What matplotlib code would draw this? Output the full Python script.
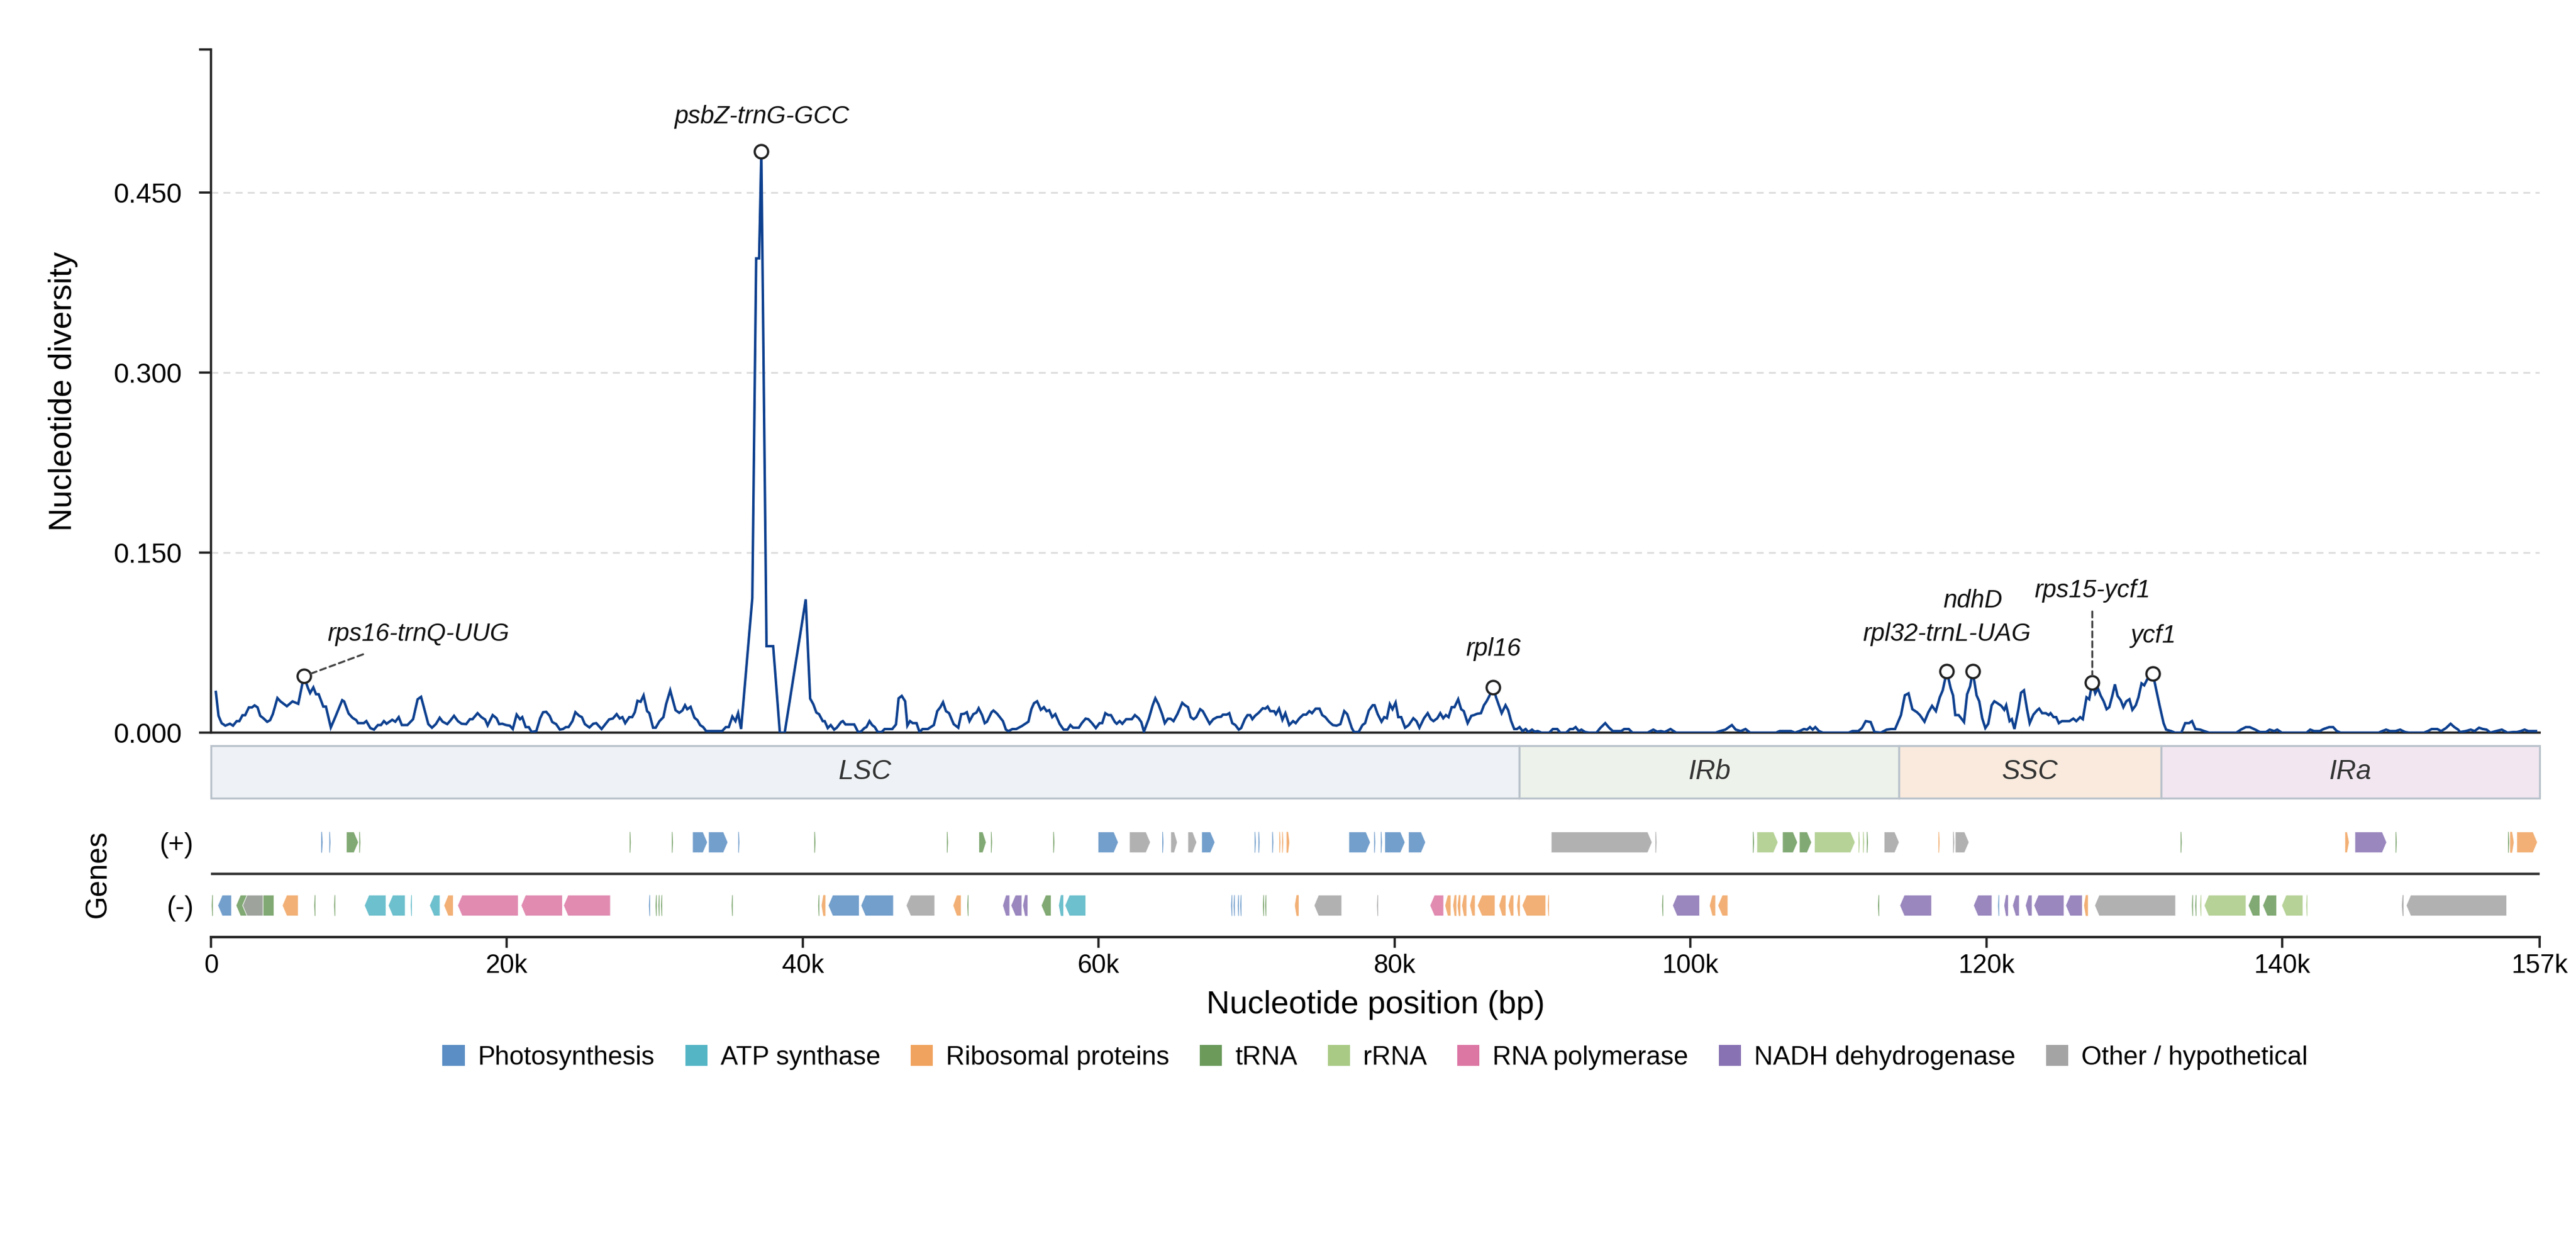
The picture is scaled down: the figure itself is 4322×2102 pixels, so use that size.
import numpy as np
import matplotlib
matplotlib.use('Agg')
import matplotlib.pyplot as plt
from matplotlib.patches import Polygon, Rectangle, Patch

plt.rcParams['font.family'] = ['Liberation Sans', 'DejaVu Sans']

GENOME_KB = 157.4

# sliding-window nucleotide diversity (window centre in kb, Pi)
POS_KB = [
    0.33, 0.51, 0.72, 0.97, 1.28, 1.49, 1.74, 1.92, 2.13, 2.31, 2.56, 2.77, 2.95, 3.15, 3.33, 3.54,
    3.80, 4.00, 4.18, 4.49, 4.70, 5.13, 5.51, 5.90, 6.28, 6.56, 6.70, 6.92, 7.10, 7.28, 7.59, 7.77,
    8.10, 8.40, 8.87, 9.00, 9.30, 9.56, 9.82, 9.94, 10.33, 10.50, 10.77, 11.02, 11.28, 11.49, 11.69,
    11.87, 12.25, 12.46, 12.69, 12.90, 13.28, 13.66, 13.97, 14.20, 14.69, 14.94, 15.20, 15.46, 15.66,
    15.97, 16.15, 16.43, 16.69, 16.94, 17.25, 17.50, 17.68, 18.02, 18.28, 18.53, 18.70, 19.04, 19.30,
    19.48, 19.69, 19.94, 20.20, 20.40, 20.66, 20.89, 21.04, 21.27, 21.48, 21.68, 21.99, 22.25, 22.45,
    22.66, 22.89, 23.07, 23.33, 23.58, 23.79, 23.99, 24.17, 24.43, 24.63, 24.89, 25.07, 25.27, 25.58,
    25.84, 26.04, 26.40, 26.66, 26.91, 27.17, 27.42, 27.63, 27.81, 28.00, 28.27, 28.47, 28.65, 28.83,
    29.04, 29.24, 29.48, 29.63, 29.88, 30.06, 30.32, 30.58, 30.76, 31.04, 31.40, 31.65, 31.86, 32.04,
    32.19, 32.42, 32.68, 32.88, 33.06, 33.27, 33.47, 34.55, 34.80, 35.00, 35.24, 35.45, 35.63, 35.83,
    36.59, 36.85, 37.05, 37.20, 37.55, 38.00, 38.45, 38.78, 40.20, 40.50, 40.71, 40.92, 41.10, 41.35,
    41.48, 41.69, 41.89, 42.12, 42.30, 42.59, 42.71, 42.89, 43.48, 43.74, 43.92, 44.17, 44.30, 44.51,
    44.69, 44.87, 45.07, 45.33, 45.53, 46.05, 46.30, 46.48, 46.69, 46.92, 47.07, 47.25, 47.43, 47.69,
    47.89, 48.10, 48.45, 48.86, 49.09, 49.30, 49.48, 49.68, 49.89, 50.20, 50.51, 50.71, 50.91, 51.09,
    51.27, 51.53, 51.74, 51.89, 52.12, 52.30, 52.45, 52.76, 52.89, 53.14, 53.53, 53.73, 53.91, 54.17,
    54.43, 54.81, 55.25, 55.45, 55.63, 55.84, 56.09, 56.30, 56.48, 56.66, 56.86, 57.07, 57.37, 57.63,
    57.89, 58.09, 58.27, 58.66, 58.86, 59.12, 59.30, 59.55, 59.81, 60.06, 60.24, 60.45, 60.65, 60.83,
    61.10, 61.22, 61.42, 61.60, 61.86, 62.24, 62.45, 62.70, 62.88, 63.06, 63.40, 63.65, 63.83, 64.04,
    64.29, 64.47, 64.68, 64.86, 65.06, 65.32, 65.65, 65.83, 66.04, 66.22, 66.42, 66.60, 66.86, 67.04,
    67.50, 67.75, 68.01, 68.27, 68.40, 68.66, 68.83, 69.03, 69.24, 69.47, 69.63, 69.88, 70.06, 70.24,
    70.39, 70.57, 70.83, 71.09, 71.27, 71.42, 71.60, 71.86, 71.98, 72.19, 72.42, 72.62, 72.88, 73.14,
    73.32, 73.57, 73.83, 74.03, 74.24, 74.42, 74.67, 74.93, 75.11, 75.32, 75.57, 75.83, 76.08, 76.34,
    76.60, 76.80, 77.11, 77.26, 77.57, 77.83, 78.01, 78.26, 78.52, 78.65, 78.86, 79.12, 79.30, 79.48,
    79.68, 79.86, 80.07, 80.25, 80.45, 80.71, 80.96, 81.27, 81.48, 81.68, 81.99, 82.24, 82.45, 82.63,
    82.89, 83.09, 83.29, 83.47, 83.65, 83.86, 84.05, 84.30, 84.50, 84.68, 84.94, 85.19, 85.37, 85.58,
    85.84, 86.04, 86.22, 86.40, 86.67, 86.86, 87.24, 87.50, 87.68, 87.88, 88.09, 88.27, 88.45, 88.65,
    88.86, 89.04, 89.29, 89.47, 89.68, 89.93, 90.45, 90.70, 91.00, 91.20, 91.60, 91.86, 92.06, 92.24,
    92.45, 92.63, 92.88, 93.14, 93.65, 93.90, 94.24, 94.50, 94.75, 95.32, 95.52, 95.83, 96.08, 97.11,
    97.30, 97.49, 97.75, 98.00, 98.26, 98.65, 99.03, 101.70, 102.00, 102.36, 102.80, 103.06, 103.40,
    103.72, 104.03, 105.78, 106.03, 106.80, 107.06, 107.37, 107.67, 107.88, 108.08, 108.26, 108.44,
    108.69, 108.95, 110.69, 110.95, 111.34, 111.59, 111.85, 112.18, 112.44, 112.87, 113.26, 113.57,
    113.83, 114.03, 114.23, 114.49, 114.74, 115.00, 115.31, 115.51, 115.82, 116.08, 116.33, 116.59,
    116.85, 117.05, 117.33, 117.59, 117.75, 117.90, 118.13, 118.49, 118.70, 118.90, 119.08, 119.34,
    119.52, 119.72, 119.93, 120.13, 120.36, 120.54, 120.75, 121.01, 121.21, 121.34, 121.57, 121.72,
    121.90, 122.16, 122.34, 122.54, 122.75, 122.93, 123.18, 123.44, 123.57, 123.77, 124.03, 124.21,
    124.34, 124.54, 124.72, 124.90, 125.11, 125.62, 125.88, 126.08, 126.34, 126.52, 126.77, 126.95,
    127.16, 127.36, 127.54, 127.72, 127.93, 128.13, 128.31, 128.51, 128.69, 128.87, 129.08, 129.26,
    129.46, 129.67, 129.87, 130.10, 130.28, 130.49, 130.67, 130.87, 131.26, 131.46, 131.72, 131.98,
    132.15, 132.49, 132.74, 133.18, 133.44, 133.70, 133.90, 134.13, 134.46, 134.72, 135.05, 136.90,
    137.20, 137.54, 137.80, 138.18, 138.49, 138.90, 139.15, 139.46, 139.66, 139.97, 141.64, 141.89,
    142.15, 142.54, 142.79, 143.18, 143.44, 143.69, 143.94, 146.51, 146.76, 147.02, 147.28, 147.66,
    147.97, 148.30, 148.56, 149.58, 149.84, 150.10, 150.48, 150.74, 151.07, 151.38, 151.63, 151.89,
    152.02, 152.40, 152.74, 153.00, 153.30, 153.56, 153.81, 154.07, 154.45, 154.84, 155.22, 155.60,
    155.86, 156.12, 156.38, 156.63, 157.15,
]
PI = [
    .0339, .0140, .0079, .0058, .0074, .0058, .0096, .0096, .0145, .0145, .0210, .0210, .0227, .0210, .0140, .0120,
    .0090, .0104, .0154, .0288, .0260, .0220, .0260, .0240, .0470, .0370, .0330, .0377, .0320, .0320, .0217, .0217,
    .0043, .0129, .0270, .0260, .0160, .0124, .0104, .0079, .0079, .0096, .0038, .0025, .0063, .0063, .0096,
    .0074, .0107, .0091, .0129, .0063, .0063, .0112, .0278, .0298, .0071, .0041, .0071, .0124, .0091,
    .0071, .0096, .0140, .0096, .0074, .0071, .0112, .0112, .0162, .0129, .0109, .0060, .0146, .0120,
    .0071, .0074, .0063, .0058, .0030, .0150, .0112, .0129, .0046, .0046, .0005, .0013, .0120, .0170,
    .0173, .0140, .0088, .0071, .0025, .0030, .0046, .0046, .0096, .0170, .0140, .0129, .0071, .0043,
    .0074, .0079, .0030, .0071, .0110, .0118, .0154, .0118, .0129, .0079, .0129, .0129, .0170, .0265,
    .0257, .0310, .0179, .0162, .0041, .0041, .0096, .0129, .0236, .0352, .0187, .0165, .0184, .0228,
    .0195, .0215, .0124, .0104, .0063, .0046, .0013, .0013, .0046, .0046, .0134, .0096, .0162, .0030,
    .1120, .3950, .3950, .4840, .0720, .0720, .0000, .0000, .1110, .0283, .0237, .0167, .0154, .0096,
    .0096, .0038, .0063, .0025, .0041, .0088, .0096, .0068, .0068, .0005, .0008, .0038, .0046, .0096,
    .0063, .0046, .0005, .0005, .0030, .0030, .0068, .0286, .0306, .0261, .0058, .0096, .0079, .0079,
    .0005, .0030, .0030, .0063, .0179, .0212, .0253, .0179, .0162, .0071, .0041, .0154, .0157, .0170,
    .0096, .0154, .0167, .0203, .0146, .0079, .0091, .0170, .0184, .0157, .0096, .0025, .0013, .0030,
    .0030, .0055, .0091, .0195, .0245, .0261, .0190, .0212, .0179, .0187, .0129, .0154, .0071, .0025,
    .0025, .0063, .0041, .0041, .0079, .0117, .0112, .0079, .0038, .0079, .0079, .0162, .0146, .0146,
    .0088, .0074, .0096, .0074, .0112, .0112, .0146, .0120, .0088, .0008, .0120, .0228, .0286, .0237,
    .0154, .0079, .0116, .0116, .0096, .0154, .0248, .0228, .0212, .0129, .0112, .0129, .0195, .0179,
    .0074, .0112, .0129, .0132, .0150, .0150, .0162, .0079, .0063, .0025, .0038, .0112, .0146, .0146,
    .0112, .0140, .0167, .0203, .0200, .0217, .0179, .0179, .0154, .0200, .0107, .0162, .0063, .0096,
    .0079, .0120, .0150, .0150, .0179, .0162, .0200, .0200, .0146, .0129, .0091, .0063, .0058, .0071,
    .0179, .0154, .0038, .0005, .0005, .0063, .0079, .0184, .0228, .0228, .0154, .0091, .0129, .0120,
    .0237, .0195, .0250, .0129, .0129, .0041, .0063, .0120, .0096, .0041, .0120, .0162, .0112, .0096,
    .0120, .0162, .0120, .0146, .0129, .0212, .0212, .0278, .0195, .0179, .0079, .0140, .0146, .0157,
    .0162, .0228, .0261, .0303, .0380, .0294, .0162, .0228, .0187, .0096, .0030, .0030, .0046, .0013,
    .0030, .0005, .0025, .0008, .0013, .0000, .0000, .0030, .0030, .0000, .0000, .0030, .0030, .0046,
    .0013, .0025, .0005, .0000, .0000, .0038, .0079, .0041, .0013, .0013, .0030, .0030, .0000, .0000,
    .0013, .0025, .0008, .0013, .0005, .0030, .0000, .0000, .0013, .0025, .0063, .0025, .0013,
    .0030, .0000, .0000, .0013, .0013, .0000, .0013, .0030, .0025, .0046, .0025, .0046,
    .0013, .0000, .0000, .0013, .0013, .0038, .0096, .0088, .0005, .0000, .0025, .0030,
    .0030, .0088, .0146, .0311, .0327, .0195, .0170, .0146, .0091, .0170, .0223, .0179,
    .0294, .0352, .0510, .0369, .0310, .0146, .0146, .0088, .0320, .0385, .0510, .0310,
    .0261, .0120, .0038, .0074, .0228, .0261, .0245, .0223, .0190, .0228, .0096, .0112,
    .0030, .0190, .0332, .0352, .0195, .0079, .0150, .0187, .0200, .0162, .0162, .0146,
    .0162, .0129, .0129, .0079, .0096, .0096, .0117, .0096, .0129, .0112, .0294, .0278,
    .0415, .0327, .0369, .0310, .0261, .0195, .0212, .0306, .0402, .0306, .0270, .0212,
    .0261, .0278, .0190, .0228, .0294, .0410, .0394, .0443, .0490, .0369, .0220, .0079,
    .0025, .0013, .0000, .0000, .0079, .0079, .0096, .0030, .0025, .0013, .0000, .0000,
    .0025, .0046, .0046, .0025, .0005, .0005, .0025, .0013, .0025, .0000, .0000, .0025,
    .0013, .0013, .0030, .0046, .0046, .0013, .0000, .0000, .0013, .0025, .0013, .0013,
    .0025, .0005, .0000, .0000, .0013, .0030, .0030, .0013, .0038, .0074, .0046, .0025,
    .0005, .0013, .0025, .0013, .0041, .0030, .0025, .0000, .0013, .0025, .0000, .0005,
    .0005, .0013, .0025, .0013, .0013,
]

# highlighted hotspots
PEAK_LABELS = ['rps16-trnQ-UUG', 'psbZ-trnG-GCC', 'rpl16', 'rpl32-trnL-UAG', 'ndhD', 'rps15-ycf1', 'ycf1']
PEAK_POS    = [6.28, 37.20, 86.67, 117.33, 119.08, 127.16, 131.26]

# quadripartite regions (kb)
REGION_NAMES  = ['LSC', 'IRb', 'SSC', 'IRa']
REGION_BOUNDS = [0, 88.43, 114.10, 131.80, GENOME_KB]
REGION_COLORS = ['#eef2f6', '#edf2ea', '#f9eadd', '#f2e7f1']

# gene annotation (kb)
GENE_START  = [7.45, 8.00, 9.15, 10.02, 28.30, 31.15, 32.55, 33.63, 35.64, 40.78, 49.74, 51.90, 52.72,
               56.93, 59.96, 62.08, 64.30, 64.87, 66.03, 66.96, 70.54, 70.80, 71.73, 72.21, 72.40, 72.70,
               76.91, 78.62, 79.07, 79.34, 80.94, 90.59, 97.63, 104.22, 104.49, 106.22, 107.36, 108.38,
               111.36, 111.66, 111.92, 113.09, 116.76, 117.75, 117.90, 133.13, 144.23, 144.91, 147.66,
               155.26, 155.40, 155.85,
               0.05, 0.46, 1.69, 2.14, 4.82, 6.98, 8.32, 10.37, 11.98, 13.50, 14.77, 15.74, 16.67, 20.96,
               23.83, 29.60, 30.05, 30.24, 30.42, 35.19, 41.04, 41.27, 41.72, 43.93, 46.99, 50.15, 51.12,
               53.51, 54.07, 54.89, 56.12, 57.31, 57.72, 68.95, 69.12, 69.40, 69.57, 71.10, 71.25, 73.26,
               74.56, 78.81, 82.39, 83.40, 83.96, 84.26, 84.56, 85.08, 85.60, 87.05, 87.68, 88.28, 88.62,
               90.36, 98.08, 98.79, 101.28, 101.85, 112.68, 114.15, 119.13, 120.79, 121.21, 121.77,
               122.64, 123.21, 125.36, 126.60, 127.32, 133.89, 134.12, 134.45, 134.72, 137.70, 138.68,
               139.96, 141.62, 148.08, 148.38]
GENE_END    = [7.55, 8.08, 9.97, 10.10, 28.38, 31.23, 33.56, 34.94, 35.72, 40.86, 49.82, 52.40, 52.80,
               57.01, 61.33, 63.50, 64.38, 65.32, 66.63, 67.86, 70.62, 70.88, 71.81, 72.29, 72.48, 72.89,
               78.37, 78.70, 79.15, 80.71, 82.10, 97.41, 97.71, 104.30, 105.92, 107.24, 108.19, 111.13,
               111.44, 111.74, 112.00, 114.11, 116.84, 117.83, 118.83, 133.21, 144.53, 147.06, 147.74,
               155.34, 155.65, 157.25,
               0.13, 1.39, 4.26, 3.52, 5.90, 7.06, 8.40, 11.83, 13.13, 13.58, 15.48, 16.38, 20.77, 23.76,
               27.00, 29.68, 30.13, 30.32, 30.50, 35.27, 41.12, 41.53, 43.82, 46.13, 48.92, 50.71, 51.20,
               53.99, 54.81, 55.19, 56.79, 57.61, 59.13, 69.03, 69.20, 69.48, 69.65, 71.18, 71.33, 73.52,
               76.43, 78.89, 83.32, 83.81, 84.18, 84.45, 84.86, 85.45, 86.79, 87.53, 88.06, 88.47, 90.22,
               90.44, 98.16, 100.62, 101.70, 102.53, 112.76, 116.30, 120.38, 120.87, 121.47, 122.23,
               123.09, 125.25, 126.49, 126.87, 132.79, 133.97, 134.20, 134.53, 137.55, 138.49, 139.62,
               141.40, 141.70, 148.20, 155.17]
GENE_STRAND = ['+'] * 52 + ['-'] * 79
GENE_CAT    = ['P', 'P', 'T', 'T', 'T', 'T', 'P', 'P', 'P', 'T', 'T', 'T', 'T',
               'T', 'P', 'O', 'P', 'O', 'O', 'P', 'P', 'P', 'P', 'R', 'R', 'R',
               'P', 'P', 'P', 'P', 'P', 'O', 'O', 'T', 'r', 'T', 'T', 'r',
               'r', 'r', 'T', 'O', 'R', 'O', 'O', 'T', 'R', 'N', 'T',
               'T', 'R', 'R',
               'T', 'P', 'T', 'O', 'R', 'T', 'T', 'A', 'A', 'A', 'A', 'R', 'Pol', 'Pol',
               'Pol', 'P', 'T', 'T', 'T', 'T', 'T', 'R', 'P', 'P', 'O', 'R', 'T',
               'N', 'N', 'N', 'T', 'A', 'A', 'P', 'P', 'P', 'P', 'T', 'T', 'R',
               'O', 'O', 'Pol', 'R', 'R', 'R', 'R', 'R', 'R', 'R', 'R', 'R', 'R',
               'R', 'T', 'N', 'R', 'R', 'T', 'N', 'N', 'P', 'N', 'N',
               'N', 'N', 'N', 'R', 'O', 'T', 'T', 'r', 'r', 'T', 'T',
               'r', 'r', 'O', 'O']

CAT_KEYS   = ['P', 'A', 'R', 'T', 'r', 'Pol', 'N', 'O']
CAT_NAMES  = ['Photosynthesis', 'ATP synthase', 'Ribosomal proteins', 'tRNA', 'rRNA',
              'RNA polymerase', 'NADH dehydrogenase', 'Other / hypothetical']
CAT_COLORS = ['#5b8ec4', '#54b5c5', '#f0a35e', '#6b9a5b', '#a9ca85', '#dc77a4', '#8872b3', '#a4a4a4']
COLOR_OF   = dict(zip(CAT_KEYS, CAT_COLORS))

XTICKS = [0, 20, 40, 60, 80, 100, 120, 140, GENOME_KB]
YTICKS = [0.0, 0.15, 0.30, 0.45]
YMAX   = 0.569

INK = '#222222'

fig = plt.figure(figsize=(4322 / 300, 2102 / 300), dpi=300)
ax      = fig.add_axes([0.0819, 0.4153, 0.9040, 0.5452])
ax_reg  = fig.add_axes([0.0819, 0.3630, 0.9040, 0.0419])
ax_gene = fig.add_axes([0.0819, 0.2521, 0.9040, 0.1009])

# --- diversity panel ---
pos = np.array(POS_KB)
pi  = np.array(PI)
ax.plot(pos, pi, color='#0d408f', lw=1.0, zorder=3, solid_joinstyle='miter')

for yv in YTICKS[1:]:
    ax.axhline(yv, color='#dddddd', lw=0.7, ls=(0, (4, 3)), zorder=0)

offsets = {'rps16-trnQ-UUG': (46, 17), 'psbZ-trnG-GCC': (0, 14), 'rpl16': (0, 15.3),
           'rpl32-trnL-UAG': (0, 15), 'ndhD': (0, 28.5), 'rps15-ycf1': (0, 37), 'ycf1': (0, 15.3)}
for lab, p in zip(PEAK_LABELS, PEAK_POS):
    i = int(np.argmin(np.abs(pos - p)))
    ax.plot(pos[i], pi[i], 'o', ms=5.4, mfc='white', mec=INK, mew=0.9, zorder=5)
    dx, dy = offsets[lab]
    arrow = None
    if lab == 'rps16-trnQ-UUG':
        arrow = dict(arrowstyle='-', ls=(0, (3, 2)), color='#444444', lw=0.8, shrinkA=4, shrinkB=3)
    elif lab == 'rps15-ycf1':
        arrow = dict(arrowstyle='-', ls=(0, (3, 2)), color='#444444', lw=0.8, shrinkA=1.5, shrinkB=3)
    ax.annotate(lab, (pos[i], pi[i]), xytext=(dx, dy), textcoords='offset points',
                ha='center', va='center', fontsize=10, style='italic', color='#111111',
                arrowprops=arrow, zorder=6)

ax.set_xlim(0, GENOME_KB)
ax.set_ylim(0, YMAX)
ax.set_yticks(YTICKS + [YMAX])
ax.set_yticklabels([f'{v:.3f}' for v in YTICKS] + [''])
ax.tick_params(axis='y', labelsize=11, length=4.7, width=0.9, pad=7, color=INK)
ax.tick_params(axis='x', bottom=False, labelbottom=False)
ax.spines[['top', 'right']].set_visible(False)
for s in ['left', 'bottom']:
    ax.spines[s].set_linewidth(0.9)
    ax.spines[s].set_color(INK)
ax.set_ylabel('Nucleotide diversity', fontsize=13)
ax.yaxis.set_label_coords(-0.0571, 0.5)

# --- region band ---
for name, x0, x1, fc in zip(REGION_NAMES, REGION_BOUNDS[:-1], REGION_BOUNDS[1:], REGION_COLORS):
    ax_reg.add_patch(Rectangle((x0, 0), x1 - x0, 1, facecolor=fc, edgecolor='#b9c2cb', lw=0.8, clip_on=False))
    ax_reg.text((x0 + x1) / 2, 0.5, name, ha='center', va='center', fontsize=11, style='italic', color='#333333')
ax_reg.set_xlim(0, GENOME_KB)
ax_reg.set_ylim(0, 1)
ax_reg.axis('off')

# --- gene track ---
HALF = 0.0825
for s, e, strand, cat in zip(GENE_START, GENE_END, GENE_STRAND, GENE_CAT):
    yc = 0.75 if strand == '+' else 0.25
    h = min(0.3, 0.45 * (e - s))
    if strand == '+':
        pts = [(s, yc - HALF), (e - h, yc - HALF), (e, yc), (e - h, yc + HALF), (s, yc + HALF)]
    else:
        pts = [(e, yc - HALF), (s + h, yc - HALF), (s, yc), (s + h, yc + HALF), (e, yc + HALF)]
    thin = (e - s) < 0.3
    ax_gene.add_patch(Polygon(pts, closed=True, facecolor=COLOR_OF[cat],
                              edgecolor='none' if thin else 'white',
                              lw=0 if thin else 0.3, alpha=0.85))

ax_gene.axhline(0.5, color='#333333', lw=1.0)
ax_gene.set_xlim(0, GENOME_KB)
ax_gene.set_ylim(0, 1)
ax_gene.set_yticks([0.25, 0.75])
ax_gene.set_yticklabels(['(-)', '(+)'])
ax_gene.tick_params(axis='y', length=0, pad=7, labelsize=11)
ax_gene.set_xticks(XTICKS)
ax_gene.set_xticklabels(['0'] + [f'{v:.0f}k' for v in XTICKS[1:]])
ax_gene.tick_params(axis='x', labelsize=10.5, length=4.2, width=0.9, pad=2.5, color=INK)
ax_gene.spines[['top', 'right', 'left']].set_visible(False)
ax_gene.spines['bottom'].set_linewidth(1.0)
ax_gene.spines['bottom'].set_color(INK)
ax_gene.set_ylabel('Genes', fontsize=12)
ax_gene.yaxis.set_label_coords(-0.0425, 0.5)
ax_gene.set_xlabel('Nucleotide position (bp)', fontsize=13)
ax_gene.xaxis.set_label_coords(0.5, -0.42)

handles = [Patch(facecolor=c, edgecolor='none') for c in CAT_COLORS]
fig.legend(handles, CAT_NAMES, loc='center', bbox_to_anchor=(0.5338, 0.1560), ncol=8,
           frameon=False, fontsize=10.5, handlelength=0.85, handleheight=0.85,
           handletextpad=0.5, columnspacing=1.17)

fig.savefig('out.png', dpi=300)
